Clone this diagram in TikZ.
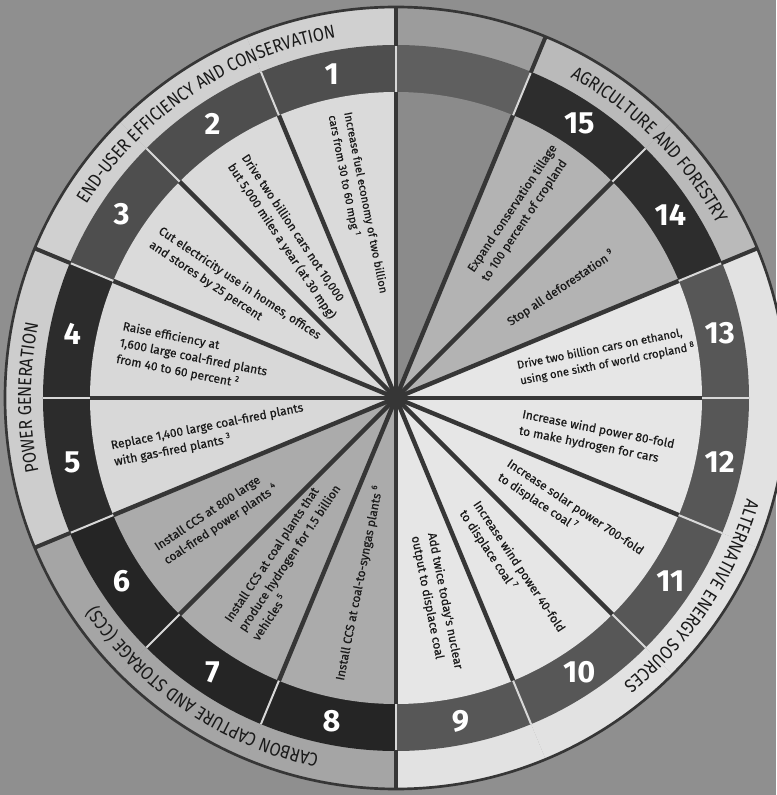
\documentclass[tikz,border=0pt]{standalone}
\usepackage{fontspec}
\setmainfont{Fira Sans}
\newfontfamily\catff{Fira Sans}[FakeStretch=0.86]
\newfontfamily\wff{Fira Sans}[FakeBold=0.5]
\usetikzlibrary{decorations.text}
\definecolor{bgc}{HTML}{8F8F8F}
\definecolor{euo}{HTML}{D0D0D0}
\definecolor{eub}{HTML}{4E4E4E}
\definecolor{eui}{HTML}{DADADA}
\definecolor{pgo}{HTML}{CDCDCD}
\definecolor{pgb}{HTML}{2C2C2C}
\definecolor{pgi}{HTML}{D8D8D8}
\definecolor{cco}{HTML}{A5A5A5}
\definecolor{ccb}{HTML}{252525}
\definecolor{cci}{HTML}{ABABAB}
\definecolor{alo}{HTML}{E2E2E2}
\definecolor{alb}{HTML}{575757}
\definecolor{ali}{HTML}{E6E6E6}
\definecolor{ago}{HTML}{BABABA}
\definecolor{agb}{HTML}{2D2D2D}
\definecolor{agi}{HTML}{B3B3B3}
\definecolor{emo}{HTML}{9C9C9C}
\definecolor{emb}{HTML}{5F5F5F}
\definecolor{emi}{HTML}{8B8B8B}
\definecolor{divd}{HTML}{363636}
\definecolor{divl}{HTML}{D8D8D8}
\definecolor{txtc}{HTML}{1A1A1A}
\newcommand\catfont{\catff\fontsize{14}{14}\selectfont}
\newcommand\wsector[5]{%
  \fill[#3] (0,0) -- (#1:391) arc[start angle=#1,end angle=#2,radius=391] -- cycle;
  \fill[#4] (0,0) -- (#1:353) arc[start angle=#1,end angle=#2,radius=353] -- cycle;
  \fill[#5] (0,0) -- (#1:306) arc[start angle=#1,end angle=#2,radius=306] -- cycle;}
\tikzset{
  num/.style={text=white, font=\bfseries\fontsize{23}{23}\selectfont, inner sep=0pt},
  wtxt/.style={text=txtc, font=\wff\fontsize{9}{12.5}\selectfont, align=left, inner sep=0pt, anchor=west},
  smalltxt/.style={font=\wff\fontsize{8.4}{12}\selectfont},
  darkdiv/.style={draw=divd, line width=3.3pt},
  lightdiv/.style={draw=divl, line width=1.5pt},
  catline/.style={draw=divd, line width=3pt},
  rim/.style={draw=divd, line width=2pt},
  cattext/.style={decorate, decoration={text along path, text align=center, text color=txtc}}
}
\begin{document}
\begin{tikzpicture}[x=0.75pt,y=0.75pt]
\useasboundingbox (-396,-397) rectangle (380,398);
\fill[bgc] (-396,-397) rectangle (380,398);
% sectors
\wsector{90}{112.5}{euo}{eub}{eui}
\wsector{112.5}{135}{euo}{eub}{eui}
\wsector{135}{157.5}{euo}{eub}{eui}
\wsector{157.5}{180}{pgo}{pgb}{pgi}
\wsector{180}{202.5}{pgo}{pgb}{pgi}
\wsector{202.5}{225}{cco}{ccb}{cci}
\wsector{225}{247.5}{cco}{ccb}{cci}
\wsector{247.5}{270}{cco}{ccb}{cci}
\wsector{270}{292.5}{alo}{alb}{ali}
\wsector{292.5}{315}{alo}{alb}{ali}
\wsector{315}{337.5}{alo}{alb}{ali}
\wsector{337.5}{360}{alo}{alb}{ali}
\wsector{0}{22.5}{alo}{alb}{ali}
\wsector{22.5}{45}{ago}{agb}{agi}
\wsector{45}{67.5}{ago}{agb}{agi}
\wsector{67.5}{90}{emo}{emb}{emi}
% dividers
\foreach \a in {0,22.5,...,337.5} {
  \draw[darkdiv] (0,0) -- (\a:306);
  \draw[lightdiv] (\a:306) -- (\a:353);
}
\foreach \a in {22.5,67.5,90,157.5,202.5,270}
  \draw[catline] (\a:352) -- (\a:391);
\draw[rim] (0,0) circle[radius=391];
% numbers
\foreach \k in {1,...,15}
  \node[num] (n\k) at ({90+(\k-0.5)*22.5}:330) {\k};
% wedge texts
\node[wtxt, smalltxt, rotate=-78.75] (t1) at (101.25:290) {Increase fuel economy of two billion\\cars from 30 to 60 mpg \textsuperscript{1}};
\node[wtxt, rotate=-56.25] (t2) at (123.75:286) {Drive two billion cars not 10,000\\but 5,000 miles a year (at 30 mpg)};
\node[wtxt, rotate=-33.75] (t3) at (146.25:290) {Cut electricity use in homes, offices\\and stores by 25 percent};
\node[wtxt, rotate=-11.25] (t4) at (168.75:282) {Raise efficiency at\\1,600 large coal-fired plants\\from 40 to 60 percent \textsuperscript{2}};
\node[wtxt, rotate=11.25] (t5) at (191.25:289) {Replace 1,400 large coal-fired plants\\with gas-fired plants \textsuperscript{3}};
\node[wtxt, rotate=33.75] (t6) at (213.75:283) {Install CCS at 800 large\\coal-fired power plants \textsuperscript{4}};
\node[wtxt, rotate=56.25] (t7) at (236.25:279) {Install CCS at coal plants that\\produce hydrogen for 1.5 billion\\vehicles \textsuperscript{5}};
\node[wtxt, rotate=78.75] (t8) at (258.75:288) {Install CCS at coal-to-syngas plants \textsuperscript{6}};
\node[wtxt, rotate=-78.75] (t9) at (281.25:139) {Add twice today's nuclear\\output to displace coal};
\node[wtxt, rotate=-56.25] (t10) at (303.75:131) {Increase wind power 40-fold\\to displace coal \textsuperscript{7}};
\node[wtxt, rotate=-33.75] (t11) at (326.25:129) {Increase solar power 700-fold\\to displace coal \textsuperscript{7}};
\node[wtxt, rotate=-11.25] (t12) at (348.75:127) {Increase wind power 80-fold\\to make hydrogen for cars};
\node[wtxt, smalltxt, rotate=11.25] (t13) at (11.25:125) {Drive two billion cars on ethanol,\\using one sixth of world cropland \textsuperscript{8}};
\node[wtxt, rotate=33.75] (t14) at (33.75:135) {Stop all deforestation \textsuperscript{9}};
\node[wtxt, rotate=56.25] (t15) at (56.25:147) {Expand conservation tillage\\to 100 percent of cropland};
% category labels
\path[cattext, decoration={text={|\catfont|END-USER EFFICIENCY AND CONSERVATION}}]
  (157.5:365) arc[start angle=157.5, end angle=90, radius=365];
\path[cattext, decoration={text={|\catfont|POWER GENERATION}}]
  (202.5:365) arc[start angle=202.5, end angle=157.5, radius=365];
\path[cattext, decoration={text={|\catfont|CARBON CAPTURE AND STORAGE (CCS)}}]
  (270:365) arc[start angle=270, end angle=202.5, radius=365];
\path[cattext, decoration={text={|\catfont|ALTERNATIVE ENERGY SOURCES}}]
  (22.5:365) arc[start angle=22.5, end angle=-90, radius=365];
\path[cattext, decoration={text={|\catfont|AGRICULTURE AND FORESTRY}}]
  (67.5:365) arc[start angle=67.5, end angle=22.5, radius=365];
\end{tikzpicture}
\end{document}
